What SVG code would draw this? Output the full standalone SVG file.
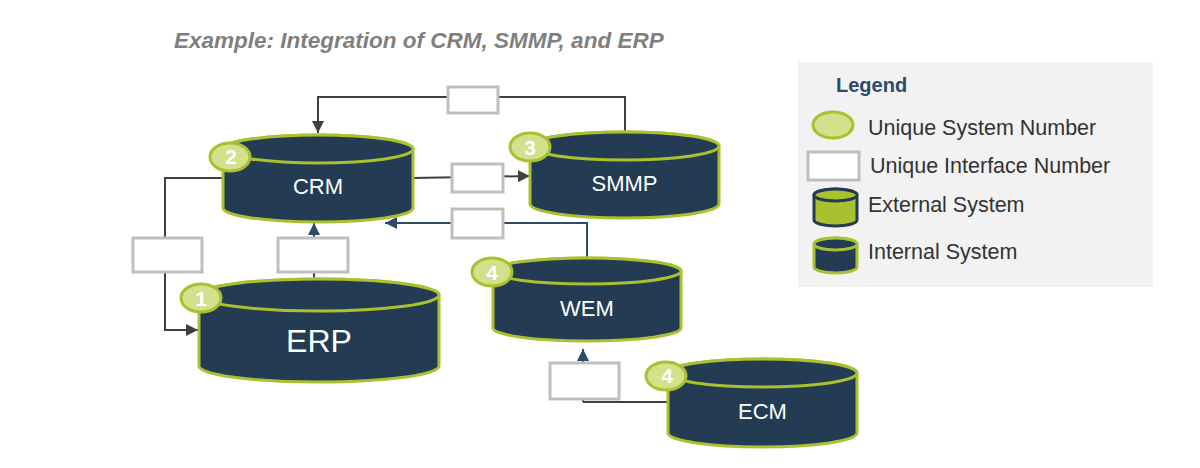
<svg xmlns="http://www.w3.org/2000/svg" width="1200" height="468" viewBox="0 0 1200 468">
<defs>
<style>
.cyl{fill:#243c53;stroke:#a9c12f;stroke-width:3}
.badge{fill:#d3e08c;stroke:#a9c12f;stroke-width:3}
.bnum{font-family:"Liberation Sans",Arial,sans-serif;font-weight:bold;font-size:21px;fill:#ffffff;text-anchor:middle}
.lbl{font-family:"Liberation Sans",Arial,sans-serif;font-size:22px;fill:#ffffff;text-anchor:middle}
.big{font-size:32px}
.ibox{fill:#ffffff;stroke:#bfbfbf;stroke-width:3}
.cg{fill:none;stroke:#404040;stroke-width:2}
.cb{fill:none;stroke:#2c4b69;stroke-width:2}
.ltxt{font-family:"Liberation Sans",Arial,sans-serif;font-size:21.5px;fill:#333333}
</style>
<marker id="ag" viewBox="0 0 10 10" refX="10" refY="5" markerWidth="6" markerHeight="6" orient="auto" markerUnits="strokeWidth"><path d="M0,0 L10,5 L0,10 Z" fill="#404040"/></marker>
<marker id="ab" viewBox="0 0 10 10" refX="10" refY="5" markerWidth="6" markerHeight="6" orient="auto" markerUnits="strokeWidth"><path d="M0,0 L10,5 L0,10 Z" fill="#2c4b69"/></marker>
</defs>
<rect width="1200" height="468" fill="#ffffff"/>
<text x="174" y="48" font-family="Liberation Sans,Arial,sans-serif" font-size="22.5" font-weight="bold" font-style="italic" fill="#7f7f7f">Example: Integration of CRM, SMMP, and ERP</text>

<g id="connectors">
<polyline class="cg" points="625,132 625,97 318,97 318,133" marker-end="url(#ag)"/>
<polyline class="cg" points="413,178 530,176" marker-end="url(#ag)"/>
<polyline class="cb" points="587,258 587,223 385,223" marker-end="url(#ab)"/>
<polyline class="cb" points="314,279 314,223" marker-end="url(#ab)"/>
<polyline class="cg" points="223,178 165,178 165,330 198,330" marker-end="url(#ag)"/>
<polyline class="cg" points="668,402 583,402"/>
<polyline class="cb" points="583,402 583,349" marker-end="url(#ab)"/>
<rect class="ibox" x="448" y="87" width="50" height="26"/>
<rect class="ibox" x="452" y="164" width="51" height="28"/>
<rect class="ibox" x="452" y="209" width="51" height="29"/>
<rect class="ibox" x="278" y="238" width="70" height="34"/>
<rect class="ibox" x="133" y="238" width="69" height="34"/>
<rect class="ibox" x="550" y="363" width="69" height="36"/>
</g>

<g id="crm">
<path class="cyl" d="M223,149 V208 A95,14 0 0 0 413,208 V149 A95,14 0 0 0 223,149 Z"/>
<ellipse class="cyl" cx="318" cy="149" rx="95" ry="14"/>
<text class="lbl" x="318" y="194">CRM</text>
<ellipse class="badge" cx="230" cy="157" rx="20" ry="14"/>
<text class="bnum" x="231" y="164">2</text>
</g>

<g id="smmp">
<path class="cyl" d="M530,146 V204 A94.5,14 0 0 0 719,204 V146 A94.5,14 0 0 0 530,146 Z"/>
<ellipse class="cyl" cx="624.5" cy="146" rx="94.5" ry="14"/>
<text class="lbl" x="624.5" y="191">SMMP</text>
<ellipse class="badge" cx="530" cy="147" rx="20" ry="14"/>
<text class="bnum" x="530" y="155">3</text>
</g>

<g id="wem">
<path class="cyl" d="M493,271 V328 A94,13 0 0 0 681,328 V271 A94,13 0 0 0 493,271 Z"/>
<ellipse class="cyl" cx="587" cy="271" rx="94" ry="13"/>
<text class="lbl" x="587" y="316">WEM</text>
<ellipse class="badge" cx="492" cy="272" rx="20" ry="14"/>
<text class="bnum" x="492" y="280">4</text>
</g>

<g id="erp">
<path class="cyl" d="M199,295 V366 A120,16 0 0 0 439,366 V295 A120,16 0 0 0 199,295 Z"/>
<ellipse class="cyl" cx="319" cy="295" rx="120" ry="16"/>
<text class="lbl big" x="319" y="352">ERP</text>
<ellipse class="badge" cx="201" cy="298" rx="20" ry="14"/>
<text class="bnum" x="201" y="306">1</text>
</g>

<g id="ecm">
<path class="cyl" d="M668,373 V433 A94.5,14 0 0 0 857,433 V373 A94.5,14 0 0 0 668,373 Z"/>
<ellipse class="cyl" cx="762.5" cy="373" rx="94.5" ry="14"/>
<text class="lbl" x="762.5" y="419">ECM</text>
<ellipse class="badge" cx="666" cy="376" rx="20" ry="14"/>
<text class="bnum" x="667" y="383">4</text>
</g>

<g id="legend">
<rect x="798" y="62" width="355" height="225" fill="#f2f2f2"/>
<text x="836" y="92" font-family="Liberation Sans,Arial,sans-serif" font-size="20" font-weight="bold" fill="#2c4b69">Legend</text>
<ellipse class="badge" cx="833" cy="125" rx="20" ry="13"/>
<text class="ltxt" x="868" y="135">Unique System Number</text>
<rect class="ibox" x="808" y="152" width="51" height="28"/>
<text class="ltxt" x="870" y="173">Unique Interface Number</text>
<path d="M814,195 V220 A21.5,6 0 0 0 857,220 V195 A21.5,6 0 0 0 814,195 Z" fill="#a9c12f" stroke="#243c53" stroke-width="3"/>
<ellipse cx="835.5" cy="195" rx="21.5" ry="6" fill="#a9c12f" stroke="#243c53" stroke-width="3"/>
<text class="ltxt" x="868" y="212">External System</text>
<path d="M814,244 V267 A21.5,6 0 0 0 857,267 V244 A21.5,6 0 0 0 814,244 Z" fill="#243c53" stroke="#a9c12f" stroke-width="3"/>
<ellipse cx="835.5" cy="244" rx="21.5" ry="6" fill="#243c53" stroke="#a9c12f" stroke-width="3"/>
<text class="ltxt" x="868" y="259">Internal System</text>
</g>
</svg>
